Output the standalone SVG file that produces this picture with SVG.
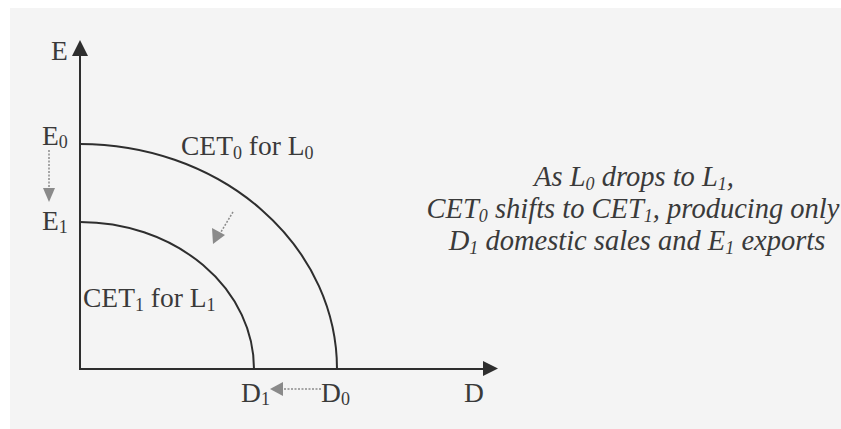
<svg xmlns="http://www.w3.org/2000/svg" width="841" height="429" viewBox="0 0 841 429">
<style>
.ax{stroke:#2e2e2e;stroke-width:2;fill:none}
.cv{stroke:#2e2e2e;stroke-width:2;fill:none}
.sh{stroke:#8a8a8a;stroke-width:1.5;stroke-dasharray:2 1.5;fill:none}
.lb{font-family:"Liberation Serif","Times New Roman",serif;font-size:27.5px;fill:#3a3a3a}
.it{font-family:"Liberation Serif","Times New Roman",serif;font-size:28.5px;font-style:italic;fill:#3a3a3a;text-anchor:middle}
.sb{font-size:18px}
</style>
<rect width="841" height="429" fill="#ffffff"/>
<rect x="10" y="8" width="831" height="421" fill="#f4f4f4"/>
<g id="connectors">
<line class="ax" x1="80" y1="369" x2="80" y2="55"/>
<path d="M72,56L80,40L88,56z" fill="#2e2e2e"/>
<line class="ax" x1="79" y1="369" x2="484" y2="369"/>
<path d="M483,361L498,368.5L483,376z" fill="#2e2e2e"/>
<line class="sh" x1="49" y1="150" x2="49" y2="189"/>
<path d="M43,188L55,188L49,202z" fill="#8a8a8a"/>
<line class="sh" x1="233" y1="212" x2="221" y2="232"/>
<path d="M213,244L212,228L225,235z" fill="#8a8a8a"/>
<line class="sh" x1="321" y1="389" x2="283" y2="389"/>
<path d="M270,389L283,382L283,396z" fill="#8a8a8a"/>
</g>
<g id="cet0">
<path class="cv" d="M80,144A257,225 0 0 1 337,369"/>
<text class="lb" x="181" y="155">CET<tspan class="sb" dy="4">0</tspan><tspan dy="-4"> for L</tspan><tspan class="sb" dy="4">0</tspan></text>
</g>
<g id="cet1">
<path class="cv" d="M80,222A174,147 0 0 1 254,369"/>
<text class="lb" x="83" y="307">CET<tspan class="sb" dy="4">1</tspan><tspan dy="-4"> for L</tspan><tspan class="sb" dy="4">1</tspan></text>
</g>
<g id="axis-labels">
<text class="lb" x="51" y="60">E</text>
<text class="lb" x="42" y="145">E<tspan class="sb" dy="3">0</tspan></text>
<text class="lb" x="42" y="230">E<tspan class="sb" dy="3">1</tspan></text>
<text class="lb" x="241" y="402">D<tspan class="sb" dy="3">1</tspan></text>
<text class="lb" x="321" y="402">D<tspan class="sb" dy="3">0</tspan></text>
<text class="lb" x="464" y="402">D</text>
</g>
<g id="note">
<text class="it" x="634" y="186">As L<tspan class="sb" dy="4">0</tspan><tspan dy="-4"> drops to L</tspan><tspan class="sb" dy="4">1</tspan><tspan dy="-4">,</tspan></text>
<text class="it" x="633" y="218">CET<tspan class="sb" dy="4">0</tspan><tspan dy="-4"> shifts to CET</tspan><tspan class="sb" dy="4">1</tspan><tspan dy="-4">, producing only</tspan></text>
<text class="it" x="637" y="250">D<tspan class="sb" dy="4">1</tspan><tspan dy="-4"> domestic sales and E</tspan><tspan class="sb" dy="4">1</tspan><tspan dy="-4"> exports</tspan></text>
</g>
</svg>
